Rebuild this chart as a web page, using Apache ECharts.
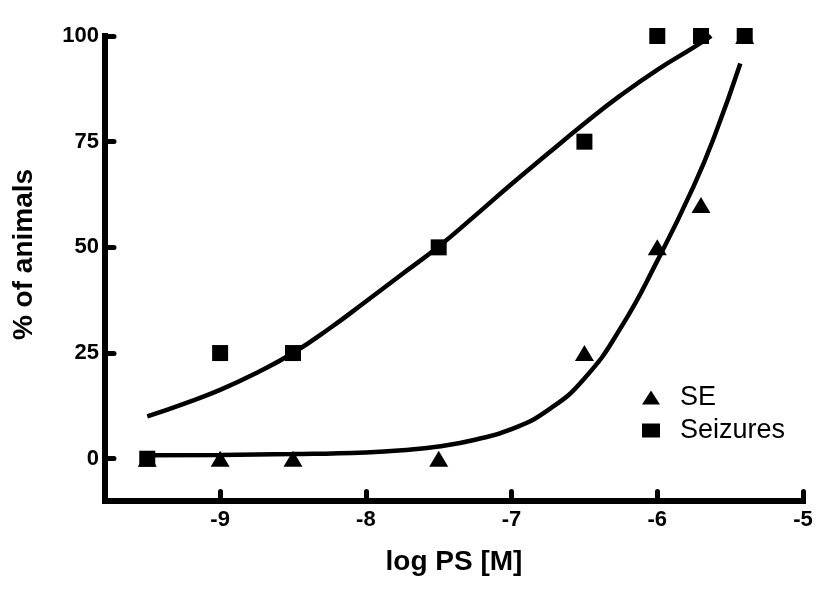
<!DOCTYPE html>
<html>
<head>
<meta charset="utf-8">
<script src="https://cdn.jsdelivr.net/npm/echarts@6/dist/echarts.min.js"></script>
<style>
html,body{margin:0;padding:0;background:#fff;}
#chart{width:840px;height:600px;}
</style>
</head>
<body>
<div id="chart"></div>
<script>
// Observed data points
const seizuresX = [-9.5, -9, -8.5, -7.5, -6.5, -6, -5.7, -5.4];
const seizuresY = [0, 25, 25, 50, 75, 100, 100, 100];
const seX = [-9.5, -9, -8.5, -7.5, -6.5, -6, -5.7, -5.4];
const seY = [0, 0, 0, 0, 25, 50, 60, 100];

// Fitted curves
const seizuresFitX = [-9.5, -9.25, -9, -8.75, -8.5, -8.25, -8, -7.75, -7.5, -7.25, -7, -6.75, -6.5, -6.25, -6, -5.75, -5.63];
const seizuresFitY = [10, 13, 16.3, 20.3, 25, 30.8, 37.2, 43.7, 50.2, 57.5, 65, 72.2, 79.3, 86, 92, 97.3, 100];
const seFitX = [-9.5, -9, -8.5, -8, -7.75, -7.5, -7.25, -7, -6.75, -6.5, -6.25, -6, -5.75, -5.6, -5.43];
const seFitY = [0.8, 0.9, 1.1, 1.5, 2.0, 2.9, 4.5, 7, 11.5, 19, 31, 46.8, 64.5, 77, 93.5];

// Axis ticks
const xTicks = [-9, -8, -7, -6, -5];
const yTicks = [0, 25, 50, 75, 100];

const zip = (a, b) => a.map((v, i) => [v, b[i]]);

const chart = echarts.init(document.getElementById('chart'), null, {renderer: 'canvas'});
const font = 'Liberation Sans, Arial, Helvetica, sans-serif';

chart.setOption({
  animation: false,
  backgroundColor: '#ffffff',
  grid: {left: 105, right: 37, top: 36, bottom: 99, containLabel: false},
  legend: {
    orient: 'vertical',
    left: 637,
    top: 379,
    itemWidth: 18,
    itemHeight: 14,
    itemGap: 6,
    symbolKeepAspect: true,
    selectedMode: false,
    data: [
      {name: 'SE', icon: 'path://M9,0L18,14L0,14Z'},
      {name: 'Seizures', icon: 'rect'}
    ],
    itemStyle: {opacity: 1},
    textStyle: {fontFamily: font, fontSize: 27, color: '#000', lineHeight: 27, padding: [0, 0, 0, 15]}
  },
  xAxis: {
    type: 'value',
    min: -9.79,
    max: -5,
    name: 'log PS [M]',
    nameLocation: 'middle',
    nameGap: 47,
    nameTextStyle: {fontFamily: font, fontSize: 28, fontWeight: 'bold', color: '#000'},
    splitLine: {show: false},
    axisLine: {show: true, onZero: false, lineStyle: {color: '#000', width: 6, cap: 'square'}},
    axisTick: {show: true, inside: true, length: 9.5, customValues: xTicks, lineStyle: {color: '#000', width: 5, cap: 'round'}},
    axisLabel: {customValues: xTicks, margin: 8, fontFamily: font, fontSize: 22, fontWeight: 'bold', color: '#000'}
  },
  yAxis: {
    type: 'value',
    min: -10,
    max: 100,
    name: '% of animals',
    nameLocation: 'middle',
    nameGap: 67,
    nameTextStyle: {fontFamily: font, fontSize: 28, fontWeight: 'bold', color: '#000', padding: [0, 0, 0, 28]},
    splitLine: {show: false},
    axisLine: {show: true, onZero: false, lineStyle: {color: '#000', width: 6, cap: 'square'}},
    axisTick: {show: true, inside: true, length: 9, customValues: yTicks, lineStyle: {color: '#000', width: 5, cap: 'round'}},
    axisLabel: {customValues: yTicks, margin: 6, fontFamily: font, fontSize: 22, fontWeight: 'bold', color: '#000'}
  },
  series: [
    {
      name: 'Seizures fit', type: 'line', data: zip(seizuresFitX, seizuresFitY),
      showSymbol: false, symbol: 'none', smooth: 0.5, silent: true, z: 2,
      lineStyle: {color: '#000', width: 4.5}
    },
    {
      name: 'SE fit', type: 'line', data: zip(seFitX, seFitY),
      showSymbol: false, symbol: 'none', smooth: 0.5, silent: true, z: 2,
      lineStyle: {color: '#000', width: 4.5}
    },
    {
      name: 'SE', type: 'scatter', data: zip(seX, seY),
      symbol: 'triangle', symbolSize: [19, 16], z: 3,
      itemStyle: {color: '#000', opacity: 1}
    },
    {
      name: 'Seizures', type: 'scatter', data: zip(seizuresX, seizuresY),
      symbol: 'rect', symbolSize: 16, z: 4,
      itemStyle: {color: '#000', opacity: 1}
    }
  ]
});
</script>
</body>
</html>
